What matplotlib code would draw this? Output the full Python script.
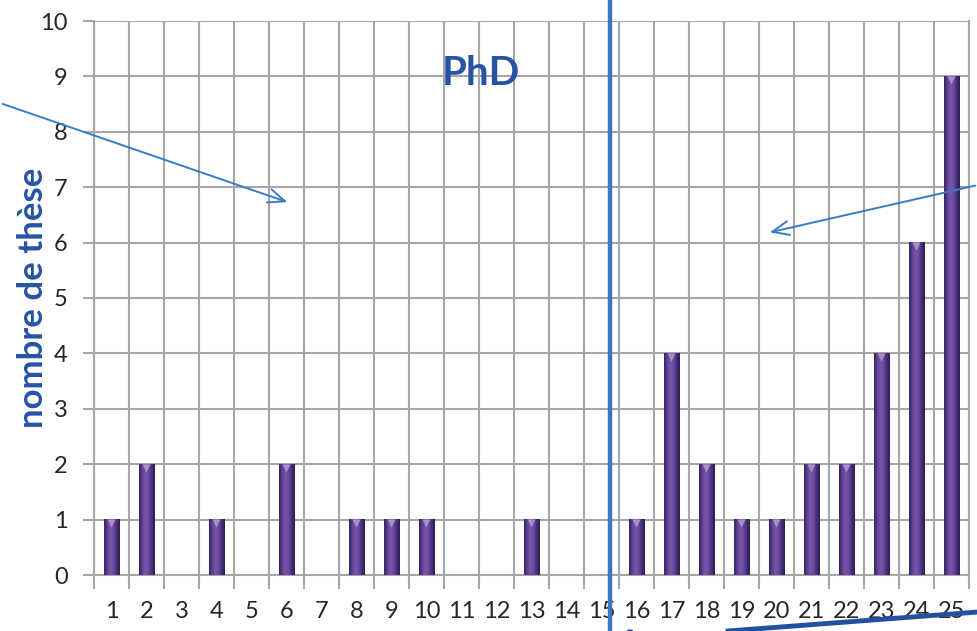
"""Nombre de thèses PhD par année"""

import matplotlib.pyplot as plt
import numpy as np
from matplotlib.colors import LinearSegmentedColormap
from matplotlib.patches import FancyArrowPatch, Circle
from matplotlib.lines import Line2D

years = list(range(1, 26))
theses = [1, 2, 0, 1, 0, 2, 0, 1, 1, 1, 0, 0, 1, 0, 0,
          1, 4, 2, 1, 1, 2, 2, 4, 6, 9]

W, H = 978, 631
plt.rcParams['font.family'] = ['Lato', 'DejaVu Sans']

fig = plt.figure(figsize=(W / 100, H / 100), dpi=100)
ax = fig.add_axes([94 / W, 1 - 575 / H, 875 / W, 554 / H])

# cylinder-like shading across each bar
shade = LinearSegmentedColormap.from_list(
    'bar', ['#35245f', '#5e4192', '#7b56aa', '#6c4a9e', '#45307a', '#2c1d50'])
grad = np.linspace(0, 1, 64).reshape(1, -1)
bar_w = 0.43
for x, v in zip(years, theses):
    if v == 0:
        continue
    ax.imshow(grad, cmap=shade, aspect='auto', zorder=3,
              extent=[x - bar_w / 2, x + bar_w / 2, 0, v], interpolation='bilinear')
    ax.plot(x, v - 0.06, marker='v', ms=6, color='#a88fcb', mec='none', zorder=4)

ax.set_xlim(0.5, 25.5)
ax.set_ylim(0, 10)

grid_c = '#a6a6a6'
ax.set_xticks(years)
ax.set_xticklabels([str(y) for y in years])
ax.set_xticks(np.arange(0.5, 26, 1), minor=True)
ax.set_yticks(range(0, 11))
ax.tick_params(axis='x', which='major', length=0, pad=19, labelsize=17, labelcolor='#262626')
ax.tick_params(axis='x', which='minor', length=10, width=1.5, color=grid_c)
ax.tick_params(axis='y', length=8, width=1.5, color=grid_c, pad=11,
               labelsize=17, labelcolor='#262626')
ax.grid(which='minor', axis='x', color=grid_c, lw=1.5, zorder=0)
ax.grid(which='major', axis='y', color=grid_c, lw=1.5, zorder=0)
ax.set_axisbelow(True)
for s in ax.spines.values():
    s.set_color(grid_c)
    s.set_linewidth(1.5)
ax.spines['top'].set_visible(False)

ax.text(0.442, 0.905, 'PhD', transform=ax.transAxes, ha='center', va='center',
        fontsize=29, fontweight='bold', color='#2653a6')
fig.text(33 / W, 1 - 298 / H, 'nombre de thèse', rotation=90, ha='center', va='center',
         fontsize=25, fontweight='bold', color='#2653a6')


def px(x, y):
    return (x / W, 1 - y / H)


# separator and pointers drawn over the chart
fig.add_artist(Line2D([610 / W, 610 / W], [0, 1], color='#3b78c0', lw=3.2,
                      transform=fig.transFigure))
for start, end in [((0, 103), (290, 203)), ((978, 185), (767, 233))]:
    fig.add_artist(FancyArrowPatch(px(*start), px(*end), transform=fig.transFigure,
                                   arrowstyle='->,head_length=12,head_width=5',
                                   color='#3a7bc8', lw=1.4, mutation_scale=1))
fig.add_artist(Line2D([728 / W, 1.0], [0, 1 - 612 / H], color='#2350a0', lw=3.5,
                      transform=fig.transFigure))
fig.add_artist(Circle(px(630, 632), 3 / W, transform=fig.transFigure, color='#2350a0'))

fig.savefig('out.png', dpi=100)
